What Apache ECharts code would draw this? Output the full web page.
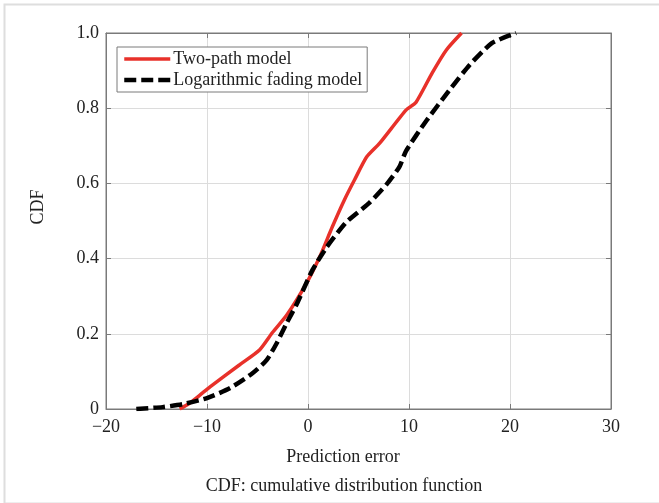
<!DOCTYPE html>
<html lang="en">

<head>
  <meta charset="UTF-8">
  <title>CDF of prediction error</title>
  <script src="https://cdn.jsdelivr.net/npm/echarts@6/dist/echarts.min.js"></script>
  <style>
    html, body { margin: 0; padding: 0; background: #fff; }
  </style>
</head>

<body>
  <div id="main" style="width: 659px;height:503px;"></div>

  <script type="text/javascript">
    // values
    var xTicks = [-20, -10, 0, 10, 20, 30];
    var yTicks = [0, 0.2, 0.4, 0.6, 0.8, 1.0];

    var twoPathX = [-12.7, -11.7, -10.7, -9.7, -6.8, -4.8, -3.5, -2.1, -0.14, 1.15, 2.4, 3.6, 4.6, 5.8, 7.1, 9.7, 10.7, 12.3, 13.7, 15.2];
    var twoPathY = [0, 0.016, 0.037, 0.059, 0.117, 0.157, 0.204, 0.25, 0.335, 0.404, 0.484, 0.556, 0.609, 0.67, 0.707, 0.795, 0.816, 0.894, 0.955, 1.0];

    var logFadeX = [-17.0, -14.4, -12.4, -10.0, -7.7, -5.5, -4.1, -3.1, -2.1, -1.1, 0.45, 1.84, 3.8, 6.1, 7.8, 9.05, 9.7, 11.7, 14.0, 16.0, 18.2, 20.6];
    var logFadeY = [0, 0.005, 0.013, 0.029, 0.056, 0.095, 0.13, 0.175, 0.229, 0.28, 0.37, 0.43, 0.497, 0.549, 0.598, 0.644, 0.686, 0.766, 0.848, 0.915, 0.973, 1.0];

    var seriesNames = ['Two-path model', 'Logarithmic fading model'];

    var font = 'Liberation Serif';
    var axisColor = '#7a7a7a';

    function pairs(xs, ys) {
      return xs.map(function (x, i) { return [x, ys[i]]; });
    }

    // box axes (MATLAB style): ticks inside, never on zero
    function boxAxis(extra) {
      var ax = {
        type: 'value',
        axisLine: { show: true, onZero: false, lineStyle: { color: axisColor } },
        axisTick: { show: true, inside: true, length: 5, lineStyle: { color: axisColor } },
        splitLine: { show: false },
        axisLabel: { show: false }
      };
      for (var k in extra) ax[k] = extra[k];
      return ax;
    }

    var myChart = echarts.init(document.getElementById('main'));

    var option = {
      backgroundColor: '#fff',
      animation: false,
      textStyle: { fontFamily: font },
      grid: {
        left: 106,
        right: 48,
        top: 33,
        bottom: 94,
        show: true,
        borderColor: axisColor,
        borderWidth: 1
      },
      legend: {
        left: 117,
        top: 47,
        orient: 'vertical',
        data: [
          { name: seriesNames[0], lineStyle: { width: 3.5 } },
          { name: seriesNames[1], lineStyle: { width: 4.5, type: [12, 5] } }
        ],
        itemWidth: 46,
        itemHeight: 14,
        itemGap: 3,
        itemStyle: { opacity: 0 },
        padding: [3, 5, 3, 5],
        borderColor: axisColor,
        borderWidth: 1,
        backgroundColor: '#fff',
        textStyle: { fontFamily: font, fontSize: 18, color: '#222', padding: [0, 0, 0, -2] }
      },
      xAxis: [
        boxAxis({
          min: xTicks[0],
          max: xTicks[xTicks.length - 1],
          interval: 10,
          splitLine: { show: true, lineStyle: { color: '#dcdcdc' } },
          axisLabel: {
            show: true, fontFamily: font, fontSize: 18, color: '#222', margin: 9,
            formatter: function (v) { return v < 0 ? '\u2212' + Math.abs(v) : String(v); }
          }
        }),
        boxAxis({ position: 'top', min: xTicks[0], max: xTicks[xTicks.length - 1], interval: 10 })
      ],
      yAxis: [
        boxAxis({
          min: yTicks[0],
          max: yTicks[yTicks.length - 1],
          interval: 0.2,
          splitLine: { show: true, lineStyle: { color: '#dcdcdc' } },
          axisLabel: {
            show: true, fontFamily: font, fontSize: 18, color: '#222', margin: 7,
            formatter: function (v) { return v === 0 ? '0' : v.toFixed(1); }
          }
        }),
        boxAxis({ position: 'right', min: yTicks[0], max: yTicks[yTicks.length - 1], interval: 0.2 })
      ],
      graphic: [
        // thin frame round the whole figure
        {
          type: 'rect', left: 2, top: 2, z: -10, silent: true,
          shape: { width: 700, height: 499 },
          style: { fill: null, stroke: '#dedede', lineWidth: 2 }
        },
        {
          type: 'text', x: 38, y: 207, rotation: Math.PI / 2,
          style: { text: 'CDF', font: '18px "Liberation Serif"', fill: '#222', textAlign: 'center', textVerticalAlign: 'middle' }
        },
        {
          type: 'text', x: 343, y: 457,
          style: { text: 'Prediction error', font: '18px "Liberation Serif"', fill: '#222', textAlign: 'center', textVerticalAlign: 'middle' }
        },
        {
          type: 'text', x: 344, y: 486,
          style: { text: 'CDF: cumulative distribution function', font: '18px "Liberation Serif"', fill: '#222', textAlign: 'center', textVerticalAlign: 'middle' }
        }
      ],
      series: [
        {
          name: seriesNames[0],
          type: 'line',
          symbol: 'none',
          smooth: 0.2,
          lineStyle: { color: '#e8312a', width: 3.5 },
          itemStyle: { color: '#e8312a' },
          data: pairs(twoPathX, twoPathY),
          z: 3
        },
        {
          name: seriesNames[1],
          type: 'line',
          symbol: 'none',
          smooth: 0.2,
          lineStyle: { color: '#000', width: 4.5, type: [12, 5] },
          itemStyle: { color: '#000' },
          data: pairs(logFadeX, logFadeY),
          z: 4
        }
      ]
    };

    myChart.setOption(option);
  </script>
</body>

</html>
